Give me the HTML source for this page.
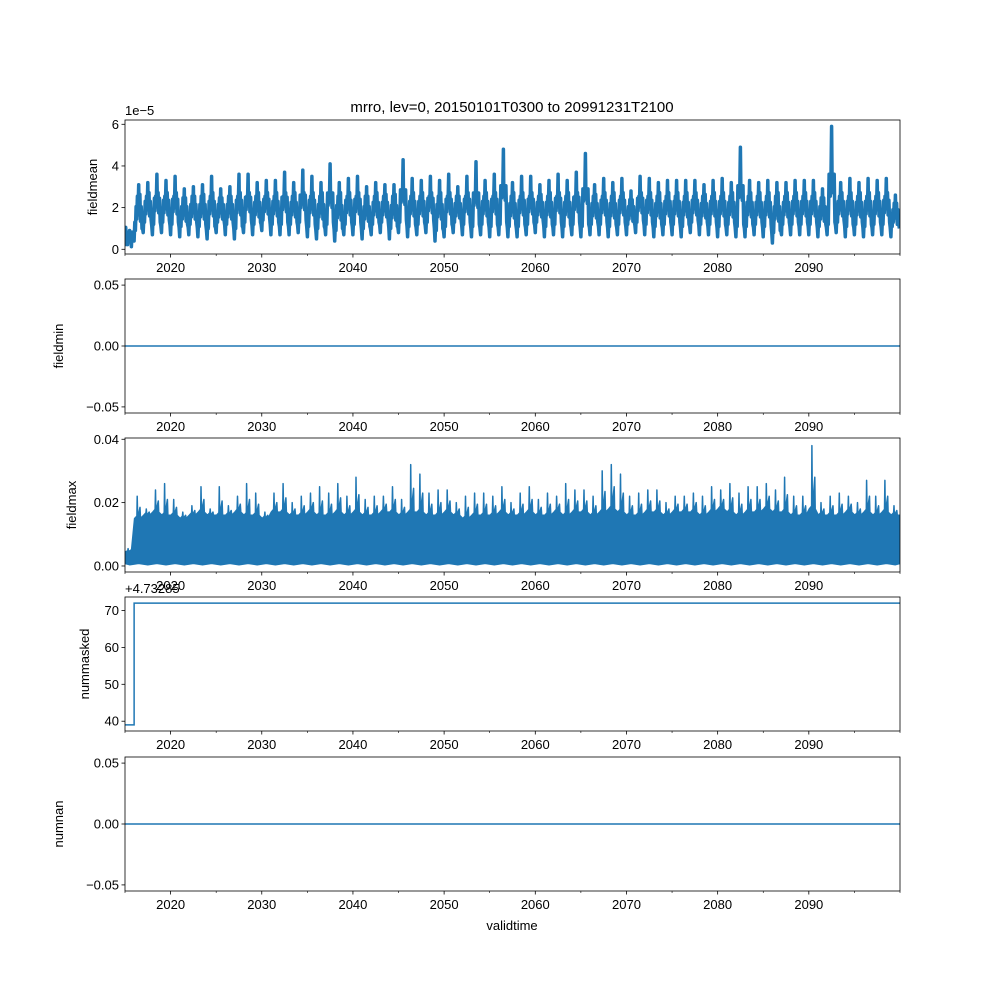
<!DOCTYPE html>
<html><head><meta charset="utf-8"><style>
body{margin:0;background:#fff}
svg{display:block;font-family:"Liberation Sans","DejaVu Sans",sans-serif}
</style></head><body>
<svg id="chart" width="1000" height="1000" viewBox="0 0 1000 1000">
<rect width="1000" height="1000" fill="#fff"/>
<text x="512" y="112" text-anchor="middle" font-size="15">mrro, lev=0, 20150101T0300 to 20991231T2100</text>
</svg>
<script>
const years = [];
for (let y = 2015; y <= 2099; y++) years.push(y);
const xTicks = [2020,2030,2040,2050,2060,2070,2080,2090];
const fmHi = [0.9,3.1,3.2,3.6,3.3,3.5,2.9,3.0,3.1,3.5,2.9,3.0,3.6,3.6,3.2,3.3,3.3,3.7,3.2,3.8,3.5,3.2,4.1,3.2,3.4,3.5,3.0,3.2,3.1,3.1,4.3,3.4,3.3,3.5,3.3,3.6,3.0,3.5,4.2,3.3,3.6,4.8,3.2,3.5,3.5,3.1,3.3,3.6,3.3,3.7,4.6,3.1,3.4,3.2,3.4,2.8,3.5,3.4,3.2,3.3,3.3,3.3,3.3,3.1,3.3,3.4,3.2,4.9,3.3,3.2,3.3,3.2,3.2,3.3,3.3,3.3,2.9,5.9,3.2,3.4,3.2,3.4,3.3,3.4,2.6];
const fmLo = [0.15,0.4,0.8,0.7,0.8,0.7,0.6,0.7,0.6,0.5,0.8,0.7,0.5,0.8,0.7,0.9,0.7,0.7,0.7,0.8,0.6,0.5,0.7,0.4,0.7,0.7,0.5,0.7,0.8,0.5,0.8,0.6,0.7,0.8,0.4,0.6,0.8,0.7,0.6,0.7,0.6,0.7,0.6,0.6,0.7,0.8,0.6,0.7,0.6,0.7,0.6,0.7,0.7,0.6,0.7,0.7,0.8,0.7,0.6,0.7,0.7,0.6,0.8,0.7,0.7,0.6,0.7,0.6,0.6,0.7,0.6,0.3,0.7,0.7,0.7,0.7,0.6,0.7,0.8,0.6,0.7,0.6,0.7,0.7,0.6];
const fxHi = [0.55,2.2,1.8,2.4,2.6,2.1,1.7,1.9,2.5,1.8,2.5,1.9,2.2,2.6,2.3,1.7,2.3,2.6,2.0,2.2,2.3,2.5,2.3,2.6,2.2,2.8,2.1,2.2,2.2,2.5,2.1,3.2,2.9,2.3,2.4,2.4,2.0,2.2,2.3,2.3,2.2,2.5,2.0,2.3,2.5,2.1,2.3,2.2,2.6,2.4,2.4,2.2,3.0,3.2,2.9,2.2,2.3,2.4,2.4,2.0,2.2,2.2,2.3,2.2,2.5,2.4,2.6,2.3,2.5,2.5,2.6,2.4,2.8,2.2,2.2,3.8,2.0,2.2,2.3,2.2,2.0,2.7,2.2,2.7,1.9];
const fxBody = [0.45,1.5,1.6,1.7,1.6,1.6,1.5,1.6,1.7,1.6,1.6,1.6,1.7,1.6,1.6,1.5,1.7,1.7,1.6,1.6,1.7,1.6,1.6,1.7,1.6,1.7,1.6,1.6,1.7,1.7,1.6,1.7,1.7,1.6,1.6,1.7,1.6,1.5,1.6,1.6,1.6,1.7,1.6,1.6,1.7,1.6,1.6,1.7,1.6,1.7,1.7,1.6,1.7,1.8,1.7,1.6,1.6,1.7,1.7,1.6,1.7,1.7,1.7,1.6,1.7,1.8,1.7,1.6,1.7,1.7,1.8,1.7,1.7,1.6,1.6,1.8,1.6,1.6,1.6,1.7,1.6,1.7,1.6,1.7,1.6];
const nmTimes = [2015.0, 2016.0, 2100.0];
const nmValues = [39, 72, 72];
const zeroTimes = [2015.0, 2100.0];
const zeroValues = [0, 0];

const NS = "http://www.w3.org/2000/svg";
const svg = document.getElementById('chart');
const L = 125, R = 900, H = 134, BLUE = "#1f77b4";
const x = t => L + (t - 2015) / 85 * (R - L);
function mk(tag, attrs, parent) {
  const e = document.createElementNS(NS, tag);
  for (const k in attrs) e.setAttribute(k, attrs[k]);
  (parent || svg).appendChild(e);
  return e;
}
const panels = [
  {name:'fieldmean', top:120, min:-0.226, max:6.206, ticks:[0,2,4,6], fmt:v=>String(v)},
  {name:'fieldmin', top:279, min:-0.055, max:0.055, ticks:[-0.05,0,0.05], fmt:v=>v.toFixed(2).replace('-','\u2212')},
  {name:'fieldmax', top:438, min:-0.0019, max:0.0404, ticks:[0,0.02,0.04], fmt:v=>v.toFixed(2)},
  {name:'nummasked', top:597, min:37.35, max:73.65, ticks:[40,50,60,70], fmt:v=>String(v)},
  {name:'numnan', top:757, min:-0.055, max:0.055, ticks:[-0.05,0,0.05], fmt:v=>v.toFixed(2).replace('-','\u2212')}
];
panels.forEach((p, i) => {
  const g = mk('g', {});
  
  
  p.g = g;
  p.y = v => p.top + H - (v - p.min) / (p.max - p.min) * H;
  const cp = mk('clipPath', {id: 'c' + i}, g);
  mk('rect', {x: L, y: p.top, width: R - L, height: H}, cp);
  p.plot = mk('g', {'clip-path': 'url(#c' + i + ')'}, g);
  p.ticks.forEach(v => {
    const yy = p.y(v);
    const tl = mk('line', {x1: L - 3.5, x2: L, y1: yy, y2: yy, stroke: '#000', 'stroke-width': 0.8}, g);
    
    
    const tt = mk('text', {x: L - 6, y: yy + 4.5, 'text-anchor': 'end', 'font-size': 13}, g);
    tt.textContent = p.fmt(v);
    
    
  });
  for (let t = 2015; t <= 2100; t += 5) {
    const major = xTicks.includes(t);
    const xl = mk('line', {x1: x(t), x2: x(t), y1: p.top + H, y2: p.top + H + (major ? 3.5 : 2), stroke: '#000', 'stroke-width': major ? 0.8 : 0.6}, g);
    
    
  }
  xTicks.forEach(t => {
    const tt = mk('text', {x: x(t), y: p.top + H + 18, 'text-anchor': 'middle', 'font-size': 13}, g);
    tt.textContent = t;
    
    
  });
  const yl = mk('text', {x: 0, y: 0, 'text-anchor': 'middle', 'font-size': 13, transform: 'translate(' + (i === 0 ? 97 : i === 3 ? 89 : 63 + (i === 2 ? 13 : 0)) + ',' + (p.top + H / 2) + ') rotate(-90)'}, g);
  yl.textContent = p.name;
  
  
});

// fieldmean
{
  const p = panels[0];
  let d = '';
  years.forEach((yr, i) => {
    const hi = fmHi[i], lo = fmLo[i];
    const mid = (hi + lo) / 2, next = i + 1 < fmLo.length ? fmLo[i + 1] : lo;
    const pts = [[yr + 0.0, lo], [yr + 0.08, lo + 0.9], [yr + 0.14, lo + 0.5], [yr + 0.22, mid + 0.3], [yr + 0.28, mid - 0.3], [yr + 0.36, Math.min(hi, 3.0) * 0.85], [yr + 0.42, mid - 0.1], [yr + 0.5, hi], [yr + 0.55, mid], [yr + 0.63, Math.min(hi, 3.2) * 0.85], [yr + 0.7, mid - 0.4], [yr + 0.78, mid + 0.3], [yr + 0.86, lo + 0.6], [yr + 0.93, (lo + next) / 2 + 0.4]];
    pts.forEach(q => { d += (d ? 'L' : 'M') + x(q[0]).toFixed(1) + ',' + p.y(q[1]).toFixed(1); });
  });
  const l = mk('path', {d, fill: 'none', stroke: BLUE, 'stroke-width': 3.5, 'stroke-linejoin': 'round'}, p.plot);
  
  
  const off = mk('text', {x: L, y: 115, 'font-size': 13}, p.g);
  off.textContent = '1e\u22125';
  
  
}
// fieldmax
{
  const p = panels[2];
  let d = 'M' + x(2015) + ',' + p.y(0.0008);
  years.forEach((yr, i) => {
    const s = 0.01;
    d += 'L' + x(yr + 0.05).toFixed(1) + ',' + p.y(fxBody[i] * s).toFixed(1);
    d += 'L' + x(yr + 0.3).toFixed(1) + ',' + p.y(fxBody[i] * s * 1.05).toFixed(1);
    d += 'L' + x(yr + 0.34).toFixed(1) + ',' + p.y(fxHi[i] * s).toFixed(1);
    d += 'L' + x(yr + 0.39).toFixed(1) + ',' + p.y(fxBody[i] * s).toFixed(1);
    d += 'L' + x(yr + 0.65).toFixed(1) + ',' + p.y((fxBody[i] + fxHi[i]) / 2 * s).toFixed(1);
    d += 'L' + x(yr + 0.7).toFixed(1) + ',' + p.y(fxBody[i] * s).toFixed(1);
  });
  d += 'L' + x(2100) + ',' + p.y(0.016) + 'L' + x(2100) + ',' + p.y(0.0008);
  years.slice().reverse().forEach((yr, k) => {
    d += 'L' + x(yr + 0.5).toFixed(1) + ',' + p.y(0.0004 + (k % 2) * 0.0004).toFixed(1);
  });
  const f = mk('path', {d: d + 'Z', fill: BLUE, stroke: BLUE, 'stroke-width': 1.5, 'stroke-linejoin': 'round'}, p.plot);
  
  
}
// step lines
function stepLine(p, ts, vs, name) {
  let d = '';
  ts.forEach((t, i) => {
    if (i === 0) d = 'M' + x(t) + ',' + p.y(vs[i]);
    else d += 'L' + x(t) + ',' + p.y(vs[i - 1]) + 'L' + x(t) + ',' + p.y(vs[i]);
  });
  const l = mk('path', {d, fill: 'none', stroke: BLUE, 'stroke-width': 1.5}, p.plot);
  
  
}
stepLine(panels[1], zeroTimes, zeroValues, 'fieldmin-line');
stepLine(panels[3], nmTimes, nmValues, 'nummasked-line');
stepLine(panels[4], zeroTimes, zeroValues, 'numnan-line');
{
  const off = mk('text', {x: L, y: 593, 'font-size': 13}, panels[3].g);
  off.textContent = '+4.73285';
  
  
}
// frames on top
panels.forEach(p => {
  const fr = mk('rect', {x: L, y: p.top, width: R - L, height: H, fill: 'none', stroke: '#000', 'stroke-width': 0.8}, p.g);
  
  
});
const xt = mk('text', {x: 512, y: 930, 'text-anchor': 'middle', 'font-size': 13});
xt.textContent = 'validtime';


</script>
</body></html>
